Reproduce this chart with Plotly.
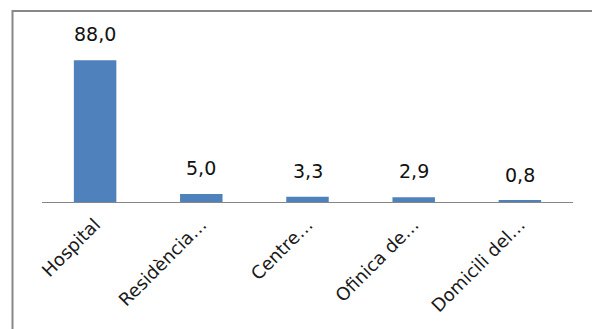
import plotly.graph_objects as go

categories = ["Hospital", "Residència…", "Centre…", "Ofinica de…", "Domicili del…"]
values = [88.0, 5.0, 3.3, 2.9, 0.8]

W, H = 592, 329
L, R, T, B = 42, 19, 41, 127
pw, ph = W - L - R, H - T - B

fig = go.Figure()
fig.add_trace(go.Bar(
    x=categories, y=values,
    marker=dict(color="#4F81BD", line=dict(width=0)),
    hoverinfo="skip",
))

for c, v in zip(categories, values):
    fig.add_annotation(
        x=c, y=v, text=f"{v:.1f}".replace(".", ","),
        showarrow=False, yanchor="bottom", yshift=13,
        font=dict(family="DejaVu Sans", size=19, color="#111111"),
    )

# outer chart border (grey frame)
fig.add_shape(
    type="rect", xref="paper", yref="paper",
    x0=(12.5 - L) / pw, x1=(W + 10 - L) / pw,
    y0=-(H + 10 - T - ph) / ph, y1=(T + ph - 11) / ph,
    line=dict(color="#878787", width=2), fillcolor="rgba(0,0,0,0)",
)

fig.update_layout(
    width=W, height=H,
    margin=dict(l=L, r=R, t=T, b=B, autoexpand=False),
    paper_bgcolor="white", plot_bgcolor="white",
    bargap=0.6, showlegend=False,
    separators=",.",
    xaxis=dict(
        showline=True, linecolor="#868686", linewidth=1, automargin=False,
        ticks="", tickangle=-45, showgrid=False, ticklabelstandoff=4,
        tickfont=dict(family="DejaVu Sans", size=18, color="#1a1a1a"),
    ),
    yaxis=dict(range=[0, 100], visible=False, showgrid=False, zeroline=False),
)

fig.write_html("out.html")
